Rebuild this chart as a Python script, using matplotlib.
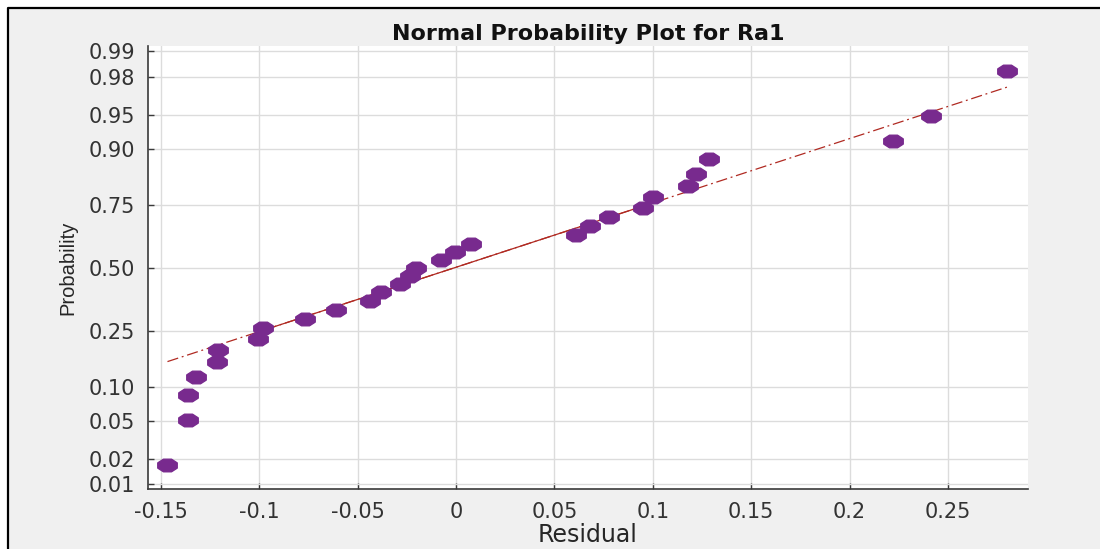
from statistics import NormalDist

import numpy as np
import matplotlib
matplotlib.use('Agg')
import matplotlib.pyplot as plt
from matplotlib.path import Path
from matplotlib.patches import Rectangle
from matplotlib.lines import Line2D

# Residuals of the Ra1 model, sorted ascending
residuals = [-0.1467, -0.1362, -0.1362, -0.1323, -0.1215, -0.1210, -0.1006,
             -0.0981, -0.0769, -0.0612, -0.0439, -0.0383, -0.0287, -0.0236,
             -0.0202, -0.0075, -0.0008, 0.0074, 0.0610, 0.0681, 0.0779,
             0.0952, 0.1003, 0.1177, 0.1219, 0.1283, 0.2222, 0.2412, 0.2801]

prob_ticks = [0.01, 0.02, 0.05, 0.10, 0.25, 0.50, 0.75, 0.90, 0.95, 0.98, 0.99]
prob_labels = ['0.01', '0.02', '0.05', '0.10', '0.25', '0.50', '0.75',
               '0.90', '0.95', '0.98', '0.99']
x_ticks = [-0.15, -0.1, -0.05, 0, 0.05, 0.1, 0.15, 0.2, 0.25]
x_labels = ['-0.15', '-0.1', '-0.05', '0', '0.05', '0.1', '0.15', '0.2', '0.25']

nd = NormalDist()


def prob_to_z(p):
    p = np.clip(np.asarray(p, dtype=float), 1e-12, 1 - 1e-12)
    return np.vectorize(nd.inv_cdf, otypes=[float])(p)


def z_to_prob(z):
    return np.vectorize(nd.cdf, otypes=[float])(np.asarray(z, dtype=float))


# plotting positions (i - 0.5) / n, like normplot
x = np.sort(np.array(residuals))
n = len(x)
pos = (np.arange(1, n + 1) - 0.5) / n

# reference line through the 1st and 3rd quartiles
q1, q3 = np.percentile(x, [25, 75], method='hazen')
z1, z3 = nd.inv_cdf(0.25), nd.inv_cdf(0.75)
slope = (z3 - z1) / (q3 - q1)
line_z = lambda v: z1 + slope * (np.asarray(v) - q1)

text_col = '#262626'
purple = '#782a8e'
red = '#b02a22'

fig = plt.figure(figsize=(11, 5.49), dpi=100, facecolor='#f0f0f0')

# white margin and black frame along the top and left edges
bx, by = 8 / 1100, 1 - 8 / 549
fig.patches.append(Rectangle((0, 0), bx, 1, transform=fig.transFigure,
                             facecolor='white', edgecolor='none', zorder=-2))
fig.patches.append(Rectangle((0, by), 1, 1 - by, transform=fig.transFigure,
                             facecolor='white', edgecolor='none', zorder=-2))
fig.lines.append(Line2D([bx, bx, 1], [0, by, by], transform=fig.transFigure,
                        color='black', linewidth=1.6, zorder=-1))

ax = fig.add_axes([148 / 1100, 1 - 489 / 549, 880 / 1100, 443 / 549])
ax.set_yscale('function', functions=(prob_to_z, z_to_prob))

# full-range dash-dot line, solid between the quartiles
xs = np.array([x.min(), x.max()])
ax.plot(xs, z_to_prob(line_z(xs)), color=red, lw=0.9,
        linestyle=(0, (9, 3, 1.5, 3)), zorder=2)
xq = np.array([q1, q3])
ax.plot(xq, z_to_prob(line_z(xq)), color=red, lw=0.9, linestyle='-', zorder=2)

# flattened octagon marker
ang = np.deg2rad(np.arange(22.5, 360, 45))
verts = np.column_stack([1.55 * np.cos(ang), np.sin(ang)])
verts = np.vstack([verts, verts[:1]])
octa = Path(verts, closed=True)
ax.plot(x, pos, linestyle='none', marker=octa, markersize=14,
        markerfacecolor=purple, markeredgecolor=purple, zorder=3)

ax.set_xlim(-0.1566, 0.2907)
ax.set_ylim(nd.cdf(-2.375), nd.cdf(2.385))
ax.set_xticks(x_ticks)
ax.set_xticklabels(x_labels)
ax.set_yticks(prob_ticks)
ax.set_yticklabels(prob_labels)
ax.minorticks_off()

ax.grid(True, color='#dcdcdc', linewidth=1.0)
ax.set_axisbelow(True)
for side in ['top', 'right']:
    ax.spines[side].set_visible(False)
for side in ['left', 'bottom']:
    ax.spines[side].set_color('#3a3a3a')
    ax.spines[side].set_linewidth(1.2)
ax.tick_params(direction='in', length=4.5, width=1.0, color='#3a3a3a',
               labelsize=15, labelcolor='#333333', pad=9)

ax.set_title('Normal Probability Plot for Ra1', fontsize=16, fontweight='bold',
             color='#111111', pad=4)
ax.set_xlabel('Residual', fontsize=17, color=text_col, labelpad=1)
ax.set_ylabel('Probability', fontsize=14.5, color=text_col, labelpad=8,
              family=['Liberation Sans Narrow', 'Liberation Sans'])

fig.savefig('out.png', dpi=100, facecolor=fig.get_facecolor())
